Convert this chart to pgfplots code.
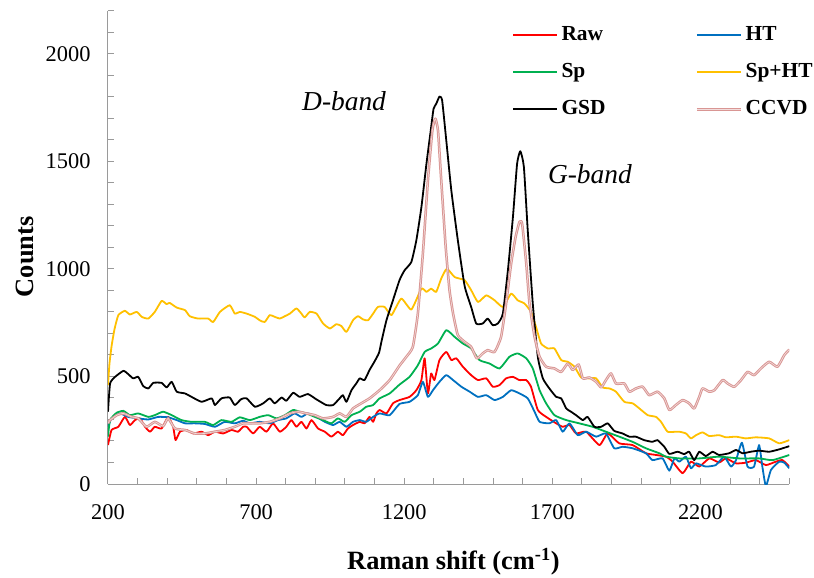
\documentclass[border=0pt]{standalone}
\usepackage{pgfplots}
\pgfplotsset{compat=1.18}
\usepackage{fontspec}
\setmainfont{Liberation Serif}
\definecolor{rawred}{HTML}{FF0000}
\definecolor{htblue}{HTML}{0070C0}
\definecolor{spgreen}{HTML}{00B050}
\definecolor{sphty}{HTML}{FFC000}
\definecolor{ccvd}{HTML}{D99694}
\definecolor{ccvdlight}{HTML}{F2DCDB}
\definecolor{axgray}{HTML}{9A9A9A}
\begin{document}
\begin{tikzpicture}
\begin{axis}[
  scale only axis, width=681.3bp, height=473.3bp,
  xmin=200, xmax=2500, ymin=0, ymax=2200,
  axis x line=bottom, axis y line=left,
  axis line style={-, draw=axgray, line width=1bp},
  xtick align=inside, ytick align=inside,
  major tick length=6bp, minor tick length=6bp,
  every tick/.style={axgray, line width=1bp},
  major tick style={axgray, line width=1bp},
  minor tick style={axgray, line width=1bp},
  xtick={200,700,1200,1700,2200}, minor xtick={300,400,...,2500},
  ytick={0,500,1000,1500,2000}, minor ytick={100,200,...,2200},
  /pgf/number format/assume math mode=true,
  /pgf/number format/1000 sep={},
  ticklabel style={font=\fontsize{22.5}{25}\selectfont},
  yticklabel style={xshift=-14bp},
  xticklabel style={yshift=-17bp},
  xlabel={\textbf{Raman shift (cm\textsuperscript{-1})}},
  ylabel={\textbf{Counts}},
  xlabel style={font=\fontsize{26.5}{30}\selectfont, at={(axis description cs:0.507,-0.165)}, anchor=center},
  ylabel style={font=\fontsize{26.5}{30}\selectfont, at={(axis description cs:-0.122,0.48)}, anchor=center, rotate=0},
  clip mode=individual,
  legend columns=2,
  legend cell align=left,
  legend image code/.code={\draw[#1] (0bp,0bp) -- (44bp,0bp);},
  legend style={draw=none, fill=none, inner sep=0pt, at={(rel axis cs:0.593,0.974)}, anchor=north west,
    font=\fontsize{21.5}{24}\selectfont\bfseries, row sep=13bp,
    nodes={inner sep=2bp, text height=15bp, text depth=5bp},
    /tikz/every odd column/.append style={column sep=1.5bp},
    /tikz/every even column/.append style={column sep=88bp}},
  every axis plot/.append style={line width=1.8bp, smooth, tension=0.3, line join=round},
]
\coordinate (bbSW) at (rel axis cs:0,0);
% Raw
\addplot[rawred] coordinates {(200,181)(212,251)(235,266)(257,312)(274,274)(291,297)(308,305)(325,266)(342,243)(358,266)(381,258)(403,312)(420,266)(428,204)(443,243)(465,251)(488,235)(516,243)(538,227)(561,243)(589,235)(617,251)(639,243)(656,266)(668,266)(690,235)(712,266)(735,243)(757,282)(780,243)(802,266)(819,297)(836,266)(853,289)(870,258)(887,297)(909,258)(932,243)(954,220)(976,243)(993,227)(1010,258)(1027,274)(1050,289)(1066,282)(1083,312)(1095,289)(1106,328)(1117,344)(1140,328)(1162,375)(1184,390)(1218,405)(1241,436)(1258,483)(1269,584)(1280,421)(1291,514)(1302,483)(1319,576)(1342,614)(1359,576)(1376,584)(1398,545)(1426,506)(1449,483)(1477,491)(1499,452)(1522,460)(1544,491)(1567,498)(1589,483)(1612,483)(1628,452)(1651,344)(1679,312)(1713,282)(1735,266)(1758,274)(1780,235)(1814,243)(1859,181)(1887,235)(1926,189)(1971,181)(2016,143)(2050,135)(2084,127)(2106,104)(2140,50)(2168,104)(2196,81)(2230,119)(2263,100)(2286,119)(2320,96)(2353,99)(2387,111)(2421,88)(2455,104)(2477,111)(2500,81)};
\addlegendentry{Raw}
% HT
\addplot[htblue] coordinates {(200,266)(212,305)(240,328)(268,312)(302,305)(336,300)(370,312)(403,310)(432,297)(460,282)(493,282)(527,279)(561,266)(594,289)(628,282)(656,294)(679,282)(712,289)(746,282)(774,297)(802,305)(830,328)(853,312)(875,328)(904,312)(932,289)(960,274)(982,289)(1005,266)(1027,289)(1050,297)(1072,289)(1095,312)(1117,328)(1151,320)(1184,372)(1218,382)(1246,413)(1263,475)(1280,405)(1297,436)(1319,475)(1342,506)(1365,483)(1393,452)(1421,429)(1449,405)(1477,413)(1505,390)(1533,405)(1561,436)(1589,421)(1617,398)(1640,336)(1657,289)(1690,282)(1713,297)(1735,243)(1758,282)(1786,227)(1814,243)(1848,220)(1881,235)(1909,166)(1937,173)(1971,166)(2016,143)(2038,111)(2072,119)(2095,62)(2112,119)(2129,104)(2151,127)(2168,73)(2185,96)(2218,81)(2252,88)(2280,127)(2303,81)(2320,111)(2340,192)(2359,81)(2381,81)(2398,181)(2409,81)(2421,-10)(2438,65)(2466,104)(2483,99)(2500,73)};
\addlegendentry{HT}
% Sp
\addplot[spgreen] coordinates {(200,220)(207,297)(229,331)(252,340)(274,320)(302,328)(336,312)(358,320)(386,336)(415,320)(448,297)(482,289)(527,289)(555,274)(583,297)(617,289)(645,310)(679,297)(712,312)(741,320)(769,305)(797,320)(825,344)(847,336)(870,328)(898,312)(926,297)(954,282)(976,305)(999,289)(1022,320)(1050,336)(1072,359)(1095,367)(1117,398)(1151,421)(1184,462)(1218,498)(1246,552)(1269,614)(1291,630)(1314,653)(1342,715)(1370,684)(1398,653)(1426,630)(1454,576)(1488,560)(1522,537)(1555,591)(1583,607)(1612,584)(1634,537)(1657,436)(1679,375)(1707,320)(1747,297)(1791,282)(1836,266)(1881,243)(1926,220)(1971,196)(2016,166)(2061,143)(2084,127)(2129,119)(2196,119)(2263,127)(2331,119)(2398,119)(2443,111)(2500,135)};
\addlegendentry{Sp}
% Sp+HT
\addplot[sphty] coordinates {(200,460)(205,560)(212,640)(222,720)(235,785)(257,805)(274,788)(297,800)(314,777)(336,769)(358,800)(381,851)(398,836)(408,842)(432,820)(460,808)(476,780)(504,769)(538,769)(555,753)(578,800)(611,831)(628,792)(645,800)(668,792)(696,777)(712,761)(729,753)(746,785)(763,777)(780,769)(797,780)(814,792)(836,816)(853,792)(864,774)(881,800)(904,792)(926,746)(949,723)(971,743)(988,734)(1005,707)(1027,761)(1044,780)(1061,765)(1078,761)(1095,792)(1111,823)(1134,823)(1157,785)(1190,862)(1224,811)(1258,908)(1275,893)(1291,908)(1308,893)(1325,955)(1344,1001)(1370,962)(1404,947)(1426,901)(1449,846)(1477,877)(1505,854)(1533,823)(1561,885)(1583,854)(1606,839)(1628,800)(1645,730)(1662,653)(1685,630)(1707,630)(1730,576)(1752,568)(1775,545)(1797,495)(1825,491)(1848,491)(1870,449)(1893,444)(1915,429)(1943,382)(1971,375)(1994,351)(2022,320)(2050,312)(2067,289)(2089,243)(2117,243)(2129,243)(2151,235)(2168,212)(2185,227)(2207,240)(2230,223)(2263,227)(2286,217)(2320,220)(2353,212)(2387,217)(2432,212)(2466,189)(2500,204)};
\addlegendentry{Sp+HT}
% GSD
\addplot[black] coordinates {(200,336)(207,467)(224,498)(252,526)(268,511)(285,491)(302,498)(319,455)(336,444)(353,470)(381,470)(398,449)(415,475)(432,429)(460,421)(482,405)(516,382)(550,398)(561,367)(583,398)(611,402)(628,367)(650,395)(668,398)(696,359)(724,375)(746,398)(763,375)(786,402)(802,387)(825,424)(847,405)(875,418)(904,393)(937,367)(960,367)(982,398)(993,413)(1005,382)(1022,436)(1038,467)(1050,491)(1066,483)(1083,530)(1100,570)(1115,610)(1123,661)(1140,761)(1162,854)(1184,947)(1201,993)(1224,1032)(1241,1133)(1258,1287)(1275,1488)(1291,1659)(1299,1744)(1308,1767)(1319,1801)(1328,1783)(1342,1597)(1359,1365)(1381,1133)(1404,920)(1426,823)(1443,746)(1465,746)(1482,769)(1499,738)(1516,746)(1533,792)(1550,993)(1567,1241)(1581,1488)(1592,1547)(1604,1473)(1617,1179)(1634,839)(1651,591)(1668,491)(1690,444)(1713,405)(1730,398)(1747,351)(1763,336)(1780,320)(1803,297)(1819,312)(1842,266)(1865,266)(1887,282)(1909,247)(1937,235)(1960,220)(1982,220)(2010,204)(2038,196)(2055,204)(2078,173)(2095,140)(2123,150)(2145,139)(2162,150)(2179,111)(2196,150)(2218,130)(2241,150)(2263,135)(2297,143)(2320,158)(2342,143)(2370,150)(2398,155)(2432,150)(2466,161)(2500,176)};
\addlegendentry{GSD}
% CCVD
\addplot[ccvd, line width=1bp, double=ccvdlight, double distance=0.6bp] coordinates {(200,282)(207,297)(230,320)(252,328)(280,312)(302,305)(330,266)(358,289)(386,269)(403,305)(426,258)(460,251)(493,235)(527,235)(561,243)(594,251)(628,266)(656,282)(679,282)(712,282)(746,289)(780,305)(814,328)(842,336)(870,328)(898,320)(926,305)(960,312)(982,328)(1005,312)(1027,351)(1055,375)(1083,398)(1117,436)(1151,483)(1184,550)(1207,591)(1229,637)(1246,792)(1263,1071)(1280,1411)(1295,1643)(1305,1698)(1314,1643)(1325,1411)(1340,1102)(1353,900)(1365,792)(1381,692)(1404,661)(1426,637)(1445,584)(1465,607)(1482,622)(1505,614)(1527,684)(1544,839)(1561,1025)(1576,1148)(1589,1218)(1598,1210)(1612,1025)(1623,839)(1640,684)(1657,591)(1679,545)(1707,537)(1730,521)(1752,560)(1769,530)(1789,555)(1803,491)(1825,495)(1848,475)(1865,449)(1881,483)(1898,514)(1915,467)(1943,467)(1960,429)(1982,444)(2005,452)(2027,413)(2055,429)(2078,398)(2095,344)(2117,367)(2140,390)(2162,375)(2179,351)(2196,405)(2207,444)(2230,429)(2247,436)(2275,483)(2292,467)(2314,452)(2337,483)(2359,521)(2381,506)(2404,537)(2432,568)(2460,545)(2483,599)(2500,625)};
\addlegendentry{CCVD}
\node[anchor=base west, inner sep=0pt, font=\fontsize{27.5}{30}\selectfont\itshape] at (axis cs:855,1736) {D-band};
\node[anchor=base west, inner sep=0pt, font=\fontsize{27.5}{30}\selectfont\itshape] at (axis cs:1685,1399) {G-band};
\end{axis}
\pgfresetboundingbox
\path ([xshift=-108bp,yshift=-94bp]bbSW) rectangle ([xshift=706bp,yshift=484bp]bbSW);
\end{tikzpicture}
\end{document}
